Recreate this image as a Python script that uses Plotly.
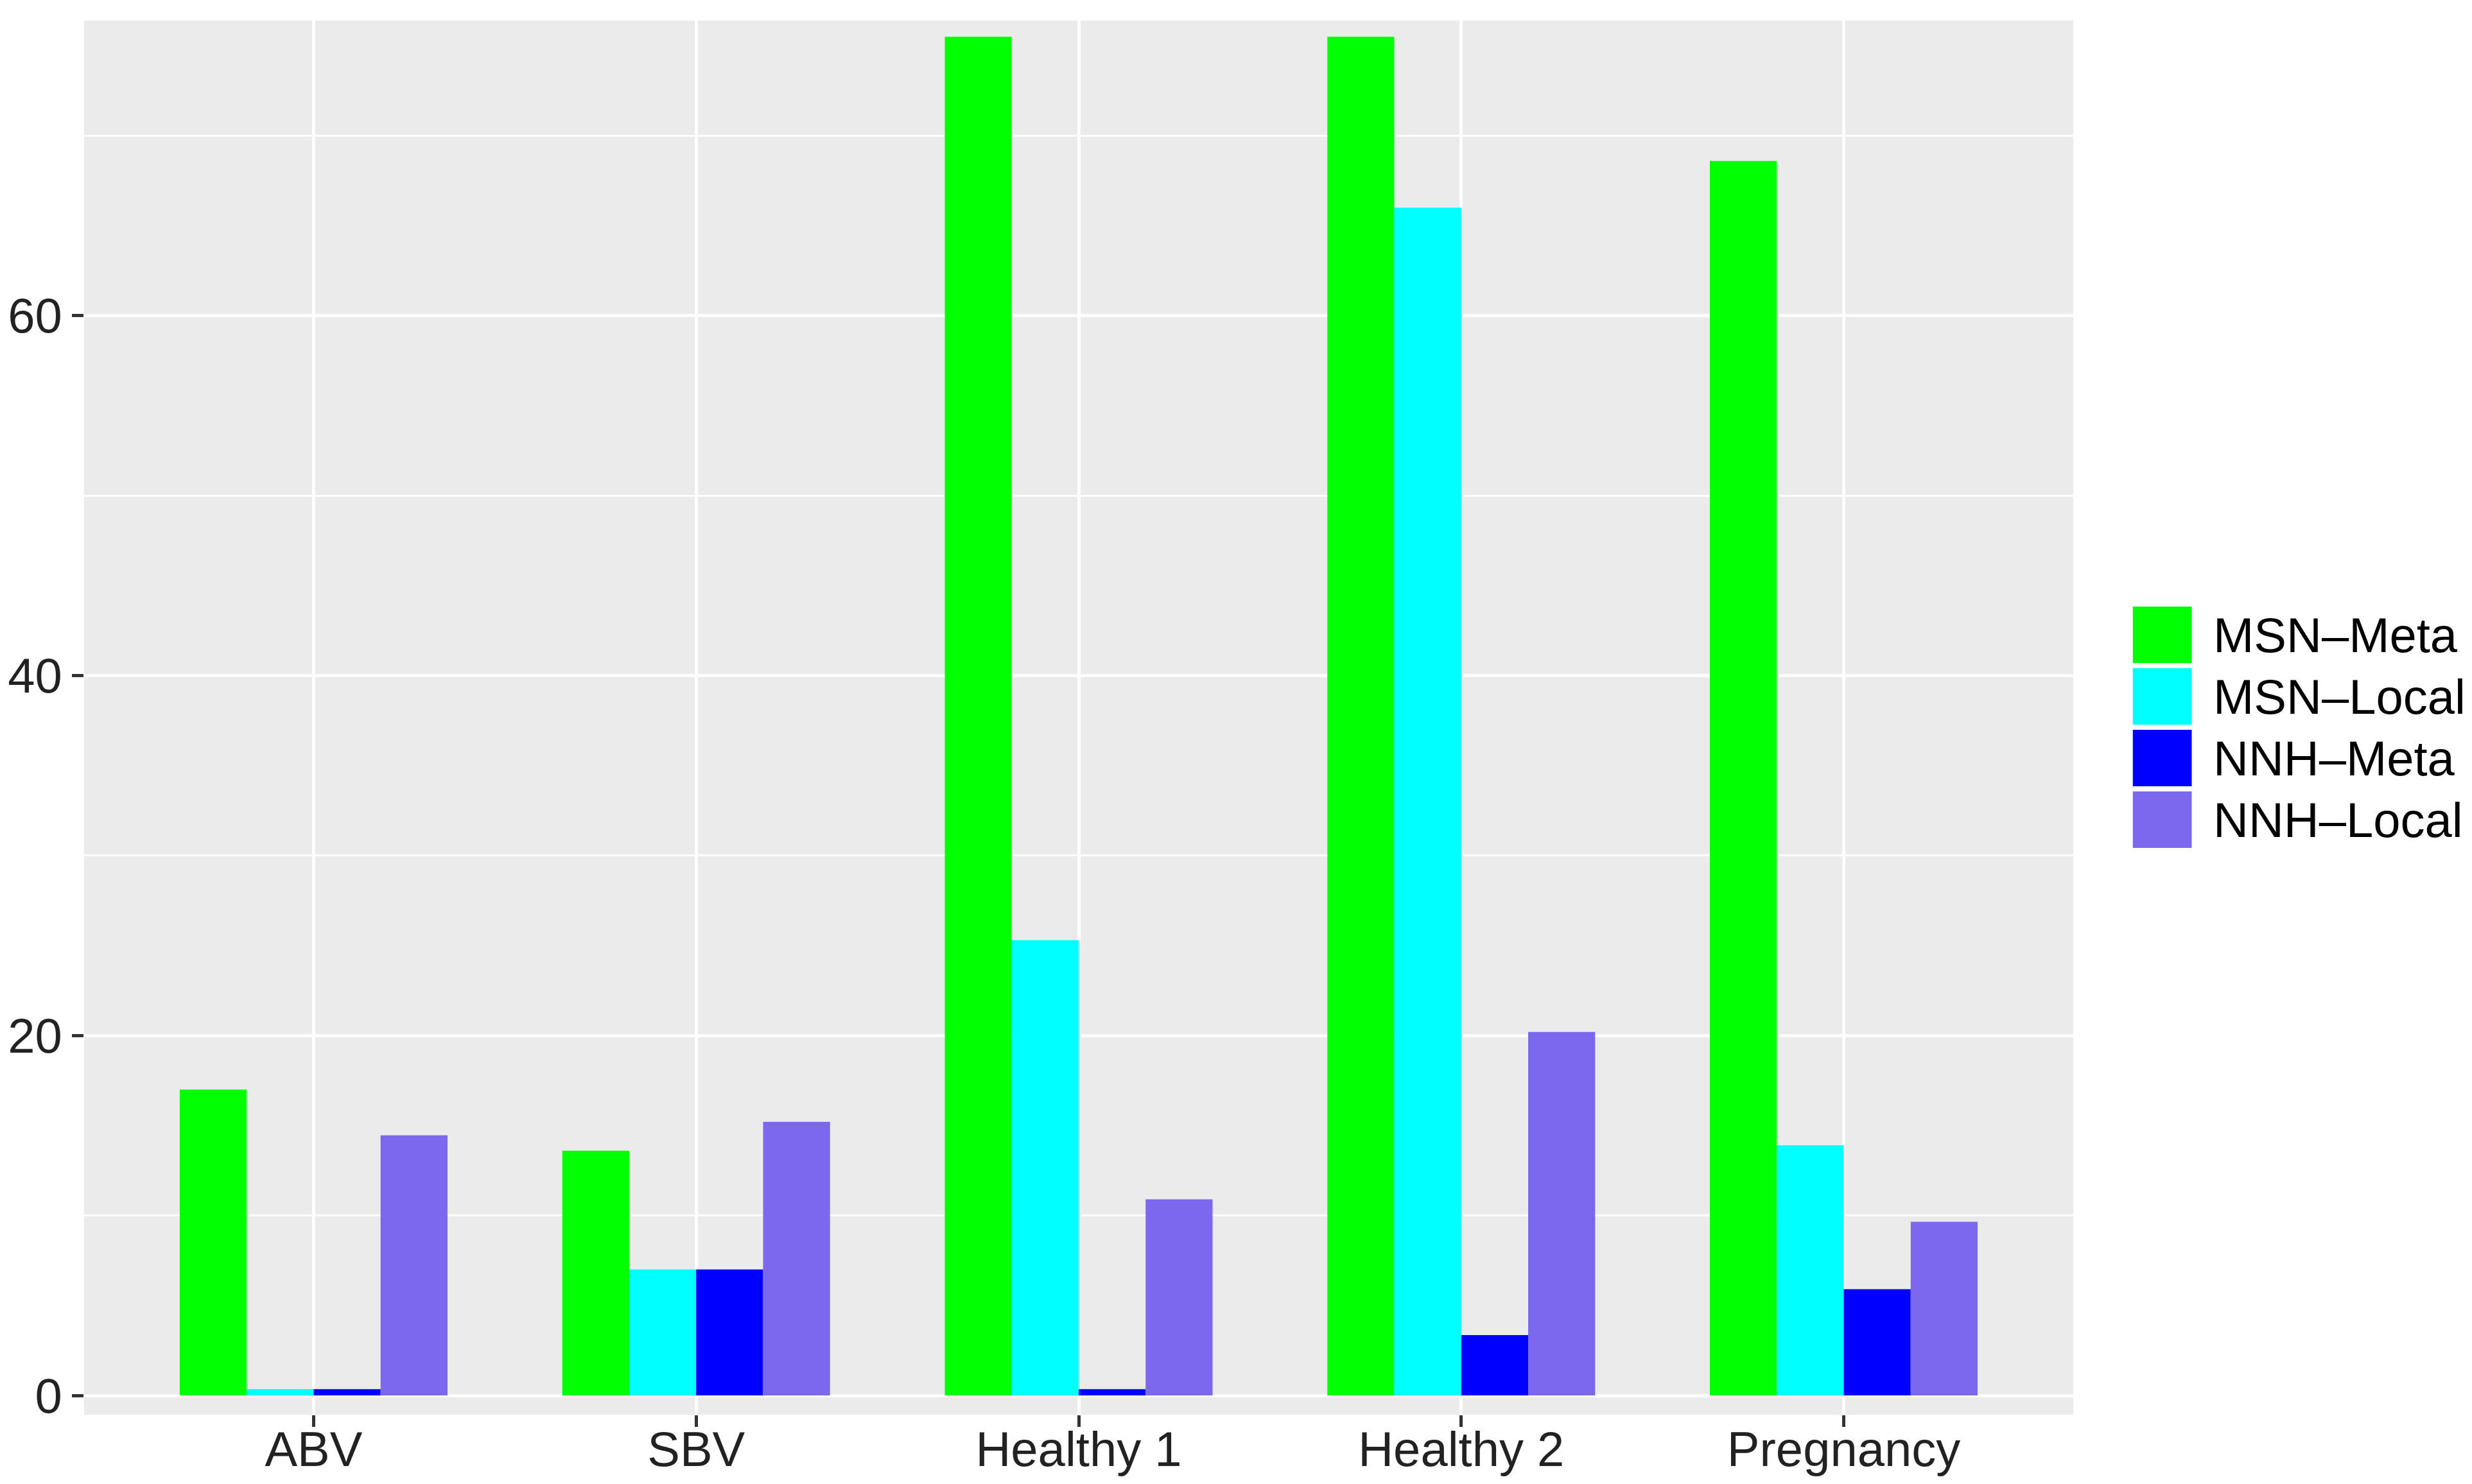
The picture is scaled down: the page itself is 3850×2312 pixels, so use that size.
import plotly.graph_objects as go

categories = ["ABV", "SBV", "Healthy 1", "Healthy 2", "Pregnancy"]
series_names = ["MSN–Meta", "MSN–Local", "NNH–Meta", "NNH–Local"]
msn_meta = [17.0, 13.6, 75.5, 75.5, 68.6]
msn_local = [0.35, 7.0, 25.3, 66.0, 13.9]
nnh_meta = [0.35, 7.0, 0.35, 3.35, 5.9]
nnh_local = [14.45, 15.2, 10.9, 20.2, 9.65]
colors = ["#00FF00", "#00FFFF", "#0000FF", "#7B68EE"]
y_ticks = [0, 20, 40, 60]
y_minor = [10, 30, 50, 70]

W, H = 3850, 2312
# panel edges in pixels: left 123, right 3229, top 32, bottom 2204
L, R, T, B = 123, W - 3229, 32, H - 2204

fig = go.Figure()
for name, vals, col in zip(series_names, [msn_meta, msn_local, nnh_meta, nnh_local], colors):
    fig.add_trace(go.Bar(x=categories, y=vals, name=name, marker=dict(color=col, line=dict(width=0)), showlegend=False))

# hand-made legend with big ggplot-like keys
pw, ph = W - L - R, H - T - B
def px_x(p): return (p - L) / pw
def px_y(p): return (H - B - p) / ph
key_top, key_h, key_gap = 945, 88, 8
for i, (name, col) in enumerate(zip(series_names, colors)):
    y0 = key_top + i * (key_h + key_gap)
    fig.add_shape(type="rect", xref="paper", yref="paper", x0=px_x(3322), x1=px_x(3414),
                  y0=px_y(y0 + key_h), y1=px_y(y0), fillcolor=col, line=dict(width=0))
    fig.add_annotation(xref="paper", yref="paper", x=px_x(3446), y=px_y(y0 + key_h / 2), text=name,
                       showarrow=False, xanchor="left", yanchor="middle",
                       font=dict(size=76, color="black", family="Liberation Sans, Arial"))

fig.update_layout(width=W, height=H, margin=dict(l=L, r=R, t=T, b=B, pad=0),
                  barmode="group", bargap=0.3, bargroupgap=0,
                  plot_bgcolor="#EBEBEB", paper_bgcolor="white",
                  font=dict(family="Liberation Sans, Arial", size=76, color="#222222"),
                  showlegend=False)
fig.update_xaxes(range=[-0.6, 4.6], showgrid=True, gridcolor="white", gridwidth=5,
                 ticks="outside", ticklen=18, tickwidth=5, tickcolor="#333333",
                 ticklabelstandoff=-30,
                 showline=False, zeroline=False, title=None)
fig.update_yaxes(range=[-1.07, 76.4], tickvals=y_ticks, showgrid=True, gridcolor="white", gridwidth=5,
                 ticks="outside", ticklen=18, tickwidth=5, tickcolor="#333333",
                 minor=dict(tickvals=y_minor, showgrid=True, gridcolor="white", gridwidth=2.5, ticklen=0),
                 showline=False, zeroline=False, title=None)

# drop the default page margin so the figure sits at the window corner
fig.write_html("out.html", config={"displayModeBar": False},
               post_script="document.body.style.margin='0';")
